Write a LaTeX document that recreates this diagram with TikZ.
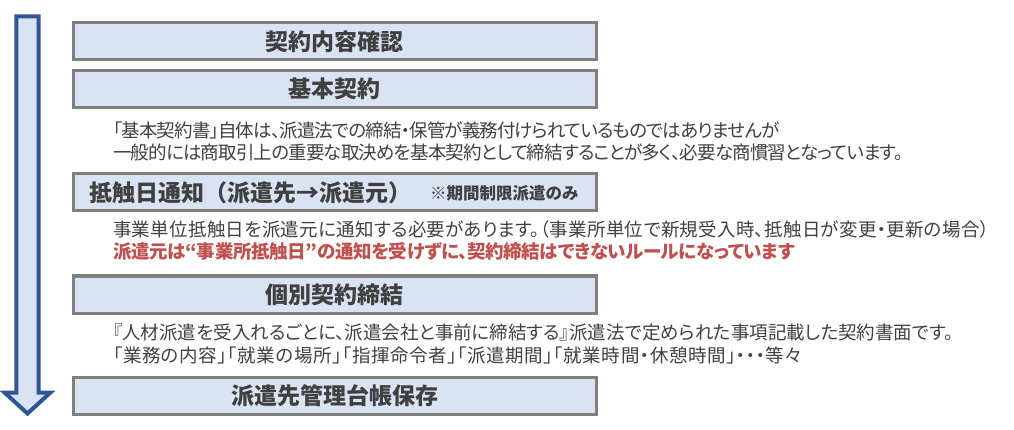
\documentclass[tikz,border=0pt]{standalone}
\usepackage{fontspec}
\newfontfamily\jpfont{Noto Sans CJK JP}
\newfontfamily\jpbody[RawFeature=+palt]{Noto Sans CJK JP}
\newcommand{\jptrack}[1]{\addfontfeature{LetterSpace=#1}}
\definecolor{boxfill}{HTML}{DAE3F3}
\definecolor{boxline}{HTML}{7F7F7F}
\definecolor{arrowline}{HTML}{2F5597}
\definecolor{bodytext}{HTML}{404040}
\definecolor{notered}{HTML}{C0504D}
\tikzset{
  stepbox/.style={draw=boxline,line width=3pt,fill=boxfill,minimum width=523pt,minimum height=37pt,inner sep=0pt,
    font=\jpfont\bfseries\fontsize{23}{23}\selectfont,text=bodytext},
  bodyline/.style={anchor=west,inner sep=0pt,font=\jpbody\fontsize{18.5}{18.5}\selectfont,text=bodytext},
  redline/.style={bodyline,font=\jpbody\bfseries\fontsize{18.5}{18.5}\selectfont,text=notered},
}
\begin{document}
\begin{tikzpicture}[x=1pt,y=-1pt]
    \useasboundingbox (0,0) rectangle (1014,430);
    % flow arrow
    \draw[arrowline,line width=4pt,fill=boxfill,miter limit=10] (16.3,16.3) -- (38.7,16.3) -- (38.7,392.5) -- (50.5,392.5)
        -- (27.5,413.5) -- (4.5,392.5) -- (16.3,392.5) -- cycle;
    % steps
    \node[stepbox] (confirm) at (334.5,41.5) {契約内容確認};
    \node[stepbox] (basic) at (334.5,88.8) {基本契約};
    \node[stepbox] (notice) at (334.5,192.5) {};
    \node[stepbox] (individual) at (334.5,294.5) {個別契約締結};
    \node[stepbox] (ledger) at (334.5,395.8) {派遣先管理台帳保存};
    \node[anchor=west,inner sep=0pt,text=bodytext,font=\jpfont\bfseries\fontsize{23}{23}\selectfont] (noticetitle)
        at (89,192.5) {抵触日通知（派遣先→派遣元）};
    \node[anchor=west,inner sep=0pt,text=bodytext,font=\jpfont\bfseries\fontsize{16.5}{16.5}\selectfont] (noticeonly)
        at (430,193.5) {※期間制限派遣のみ};
    % notes
    \node[bodyline] (basicA) at (113,130) {\jptrack{-4.6}「基本契約書」自体は、派遣法での締結・保管が義務付けられているものではありませんが};
    \node[bodyline] (basicB) at (113,152.5) {\jptrack{-4.5}一般的には商取引上の重要な取決めを基本契約として締結することが多く、必要な商慣習となっています。};
    \node[bodyline] (noticeA) at (113,229) {\jptrack{1.6}事業単位抵触日を派遣元に通知する必要があります。（事業所単位で新規受入時、抵触日が変更・更新の場合）};
    \node[redline] (noticeB) at (113,251) {\jptrack{-1.8}派遣元は“事業所抵触日”の通知を受けずに、契約締結はできないルールになっています};
    \node[bodyline] (individualA) at (113,332) {『人材派遣を受入れるごとに、派遣会社と事前に締結する』派遣法で定められた事項記載した契約書面です。};
    \node[bodyline] (individualB) at (113,355) {\jptrack{3.3}「業務の内容」「就業の場所」「指揮命令者」「派遣期間」「就業時間・休憩時間」・・・等々};
\end{tikzpicture}
\end{document}
